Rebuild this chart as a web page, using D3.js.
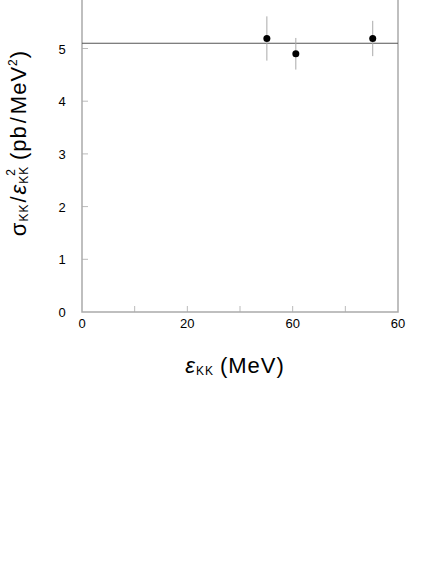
<!DOCTYPE html>
<meta charset="utf-8">
<style>
    body { margin: 0; background: #fff; }
    svg text { font-family: "Liberation Sans", Arial, sans-serif; fill: #000; }
</style>
<body>
<div id="chart"></div>
<script src="https://d3js.org/d3.v7.min.js"></script>
<script>
// data
var energy = [35.1, 40.6, 55.2];
var ratio = [5.19, 4.90, 5.19];
var ratioErr = [0.42, 0.30, 0.335];
var fitLevel = 5.10;
var xTickValues = [0, 20, 40, 60];
var xTickLabels = ["0", "20", "60", "60"];
var xMinorTicks = [10, 20, 30, 40, 50];
var yTickValues = [0, 1, 2, 3, 4, 5];

var width = 436, height = 564;
var left = 82, right = 398, bottom = 312;
var unit = 52.7;

var svg = d3.select("#chart").append("svg")
    .attr("width", width)
    .attr("height", height);

var x = d3.scaleLinear().domain([0, 60]).range([left, right]);
var y = d3.scaleLinear().domain([0, 6]).range([bottom, bottom - 6 * unit]);

// tick marks inside the frame
svg.append("g")
    .selectAll("line.xt")
    .data(xMinorTicks)
    .join("line")
    .attr("x1", d => x(d)).attr("x2", d => x(d))
    .attr("y1", bottom).attr("y2", bottom - 6)
    .attr("stroke", "#bbb").attr("stroke-width", 1);

svg.append("g")
    .selectAll("line.yt")
    .data(yTickValues.slice(1))
    .join("line")
    .attr("x1", left).attr("x2", left + 6)
    .attr("y1", d => y(d)).attr("y2", d => y(d))
    .attr("stroke", "#bbb").attr("stroke-width", 1);

// frame: left, bottom, right (top is off the page)
svg.append("path")
    .attr("d", "M" + left + "," + y(6) + "V" + bottom + "H" + right + "V" + y(6))
    .attr("fill", "none")
    .attr("stroke", "#aaa")
    .attr("stroke-width", 1.5);

// tick labels
svg.append("g")
    .selectAll("text")
    .data(xTickValues)
    .join("text")
    .attr("x", d => x(d))
    .attr("y", 328)
    .attr("text-anchor", "middle")
    .attr("font-size", 13)
    .text((d, i) => xTickLabels[i]);

svg.append("g")
    .selectAll("text")
    .data(yTickValues)
    .join("text")
    .attr("x", 62)
    .attr("y", d => y(d) + 5)
    .attr("text-anchor", "middle")
    .attr("font-size", 13)
    .text(d => d);

// fit line
svg.append("line")
    .attr("x1", x(0)).attr("x2", x(60))
    .attr("y1", y(fitLevel)).attr("y2", y(fitLevel))
    .attr("stroke", "#555").attr("stroke-width", 1.2);

// error bars
var pts = energy.map((e, i) => ({ e: e, r: ratio[i], err: ratioErr[i] }));
svg.append("g")
    .selectAll("line")
    .data(pts)
    .join("line")
    .attr("x1", d => x(d.e)).attr("x2", d => x(d.e))
    .attr("y1", d => y(d.r + d.err)).attr("y2", d => y(d.r - d.err))
    .attr("stroke", "#aaa").attr("stroke-width", 1);

svg.append("g")
    .selectAll("circle")
    .data(pts)
    .join("circle")
    .attr("cx", d => x(d.e))
    .attr("cy", d => y(d.r))
    .attr("r", 3.5)
    .attr("fill", "#000");

// x axis title
var xt = svg.append("text")
    .attr("x", 235)
    .attr("y", 373)
    .attr("text-anchor", "middle")
    .attr("font-size", 22)
    .attr("letter-spacing", 1);
xt.append("tspan").text("ε").style("font-style", "italic");
xt.append("tspan").attr("font-size", 12).attr("dy", 2).text("KK");
xt.append("tspan").attr("dy", -2).attr("dx", 6).text("(MeV)");

// y axis title
var yt = svg.append("text")
    .attr("transform", "translate(26,143) rotate(-90)")
    .attr("text-anchor", "middle")
    .attr("font-size", 22)
    .attr("letter-spacing", 1);
yt.append("tspan").text("σ");
yt.append("tspan").attr("font-size", 12).attr("dy", 2).text("KK");
yt.append("tspan").attr("dy", -2).attr("dx", 1).text("/");
yt.append("tspan").attr("dx", 1).text("ε").style("font-style", "italic");
yt.append("tspan").attr("font-size", 12).attr("dy", 2).text("KK");
yt.append("tspan").attr("font-size", 12).attr("dy", -13).attr("dx", -10).text("2");
yt.append("tspan").attr("dy", 11).attr("dx", 8).text("(pb");
yt.append("tspan").attr("dx", 2).text("/");
yt.append("tspan").attr("dx", 2).text("MeV");
yt.append("tspan").attr("font-size", 12).attr("dy", -9).text("2");
yt.append("tspan").attr("dy", 9).text(")");
</script>
</body>
